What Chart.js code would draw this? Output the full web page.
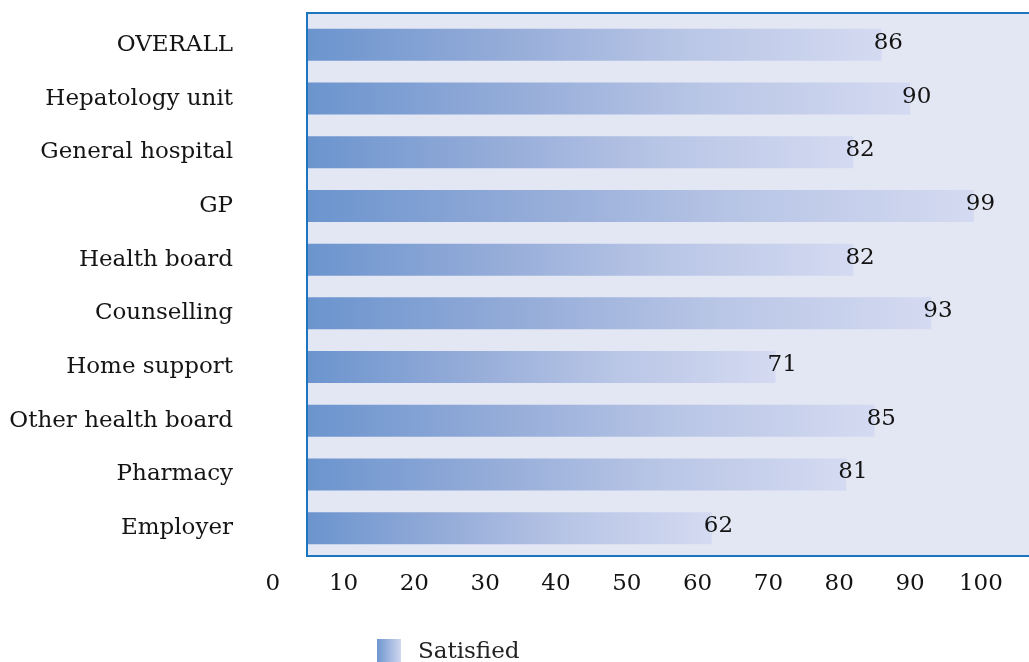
<!DOCTYPE html>
<html>
<head>
<meta charset="utf-8">
<title>Satisfaction by service</title>
<script src="https://cdn.jsdelivr.net/npm/chart.js@4.4.1/dist/chart.umd.min.js"></script>
<style>
  html, body { margin: 0; padding: 0; background: #ffffff; }
  #wrap { width: 1029px; height: 662px; position: relative; }
</style>
</head>
<body>
<div id="wrap"><canvas id="chart"></canvas></div>
<script>
// ----- Data -----
const categories = [
  'OVERALL', 'Hepatology unit', 'General hospital', 'GP', 'Health board',
  'Counselling', 'Home support', 'Other health board', 'Pharmacy', 'Employer',
];
const satisfied = [86, 90, 82, 99, 82, 93, 71, 85, 81, 62];
const xTickValues = [0, 10, 20, 30, 40, 50, 60, 70, 80, 90, 100];
const seriesLabel = 'Satisfied';

const FONT = "'DejaVu Serif', serif";
const TEXT = '#141414';

// per-bar gradient, dark blue at the axis to pale lavender at the bar end
function barGradient(c) {
  const chart = c.chart;
  const area = chart.chartArea;
  if (!area || c.dataIndex === undefined) return '#93abd8';
  const x0 = area.left;
  const x1 = chart.scales.x.getPixelForValue(satisfied[c.dataIndex]);
  const g = chart.ctx.createLinearGradient(x0, 0, x1, 0);
  g.addColorStop(0, '#6b94ce');
  g.addColorStop(0.33, '#93abd8');
  g.addColorStop(0.66, '#b9c6e6');
  g.addColorStop(1, '#d4daf1');
  return g;
}

// ----- Plot frame (background + left/top/bottom border) -----
const framePlugin = {
  id: 'frame',
  beforeDatasetsDraw(chart) {
    const { ctx, chartArea: a } = chart;
    ctx.save();
    ctx.fillStyle = '#e3e6f3';
    ctx.fillRect(a.left, a.top - 5, a.right - a.left, a.bottom - a.top + 6);
    ctx.restore();
  },
  afterDatasetsDraw(chart) {
    const { ctx, chartArea: a } = chart;
    ctx.save();
    ctx.strokeStyle = '#1b75bf';
    ctx.lineWidth = 2;
    ctx.beginPath();
    ctx.moveTo(a.right, a.top - 5);
    ctx.lineTo(a.left, a.top - 5);
    ctx.lineTo(a.left, a.bottom + 1);
    ctx.lineTo(a.right, a.bottom + 1);
    ctx.stroke();

    // value labels near the bar ends
    ctx.fillStyle = TEXT;
    ctx.font = `23px ${FONT}`;
    ctx.textAlign = 'left';
    ctx.textBaseline = 'middle';
    chart.getDatasetMeta(0).data.forEach((bar, i) => {
      ctx.fillText(String(satisfied[i]), bar.x - 8, bar.y - 2);
    });
    ctx.restore();
  },
};

// ----- Legend drawn under the axis -----
const legendPlugin = {
  id: 'bottomLegend',
  afterDraw(chart) {
    const { ctx } = chart;
    const sx = 377, sy = 639, size = 24;
    ctx.save();
    const g = ctx.createLinearGradient(sx, 0, sx + size, 0);
    g.addColorStop(0, '#6d96cf');
    g.addColorStop(1, '#d0d7ef');
    ctx.fillStyle = g;
    ctx.fillRect(sx, sy, size, size);
    ctx.fillStyle = '#222222';
    ctx.font = `23px ${FONT}`;
    ctx.textAlign = 'left';
    ctx.textBaseline = 'alphabetic';
    ctx.fillText(chart.data.datasets[0].label, 418, 658);
    ctx.restore();
  },
};

new Chart(document.getElementById('chart'), {
  type: 'bar',
  data: {
    labels: categories,
    datasets: [{
      label: seriesLabel,
      data: satisfied,
      backgroundColor: barGradient,
      borderWidth: 0,
      categoryPercentage: 1.0,
      barPercentage: 0.596,
    }],
  },
  options: {
    indexAxis: 'y',
    responsive: true,
    maintainAspectRatio: false,
    animation: false,
    layout: { padding: { top: 18, right: 0, bottom: 0, left: 0 } },
    plugins: {
      legend: { display: false },
      tooltip: { enabled: false },
    },
    scales: {
      x: {
        type: 'linear',
        min: 4.84,
        max: 106.8,
        grid: { display: false },
        border: { display: false },
        afterBuildTicks: (scale) => {
          scale.ticks = xTickValues.map(v => ({ value: v }));
        },
        afterFit: (scale) => { scale.height = 107; },
        ticks: {
          autoSkip: false,
          maxRotation: 0,
          padding: 7,
          color: TEXT,
          font: { family: FONT, size: 23 },
        },
      },
      y: {
        // gap between labels and plot comes from the (hidden) tick length,
        // ticks.padding would also pad the top of the chart
        grid: { display: false, drawTicks: true, tickLength: 74 },
        border: { display: false },
        afterFit: (scale) => { scale.width = 307; },
        ticks: {
          padding: 0,
          color: TEXT,
          font: { family: FONT, size: 23 },
        },
      },
    },
  },
  plugins: [framePlugin, legendPlugin],
});
</script>
</body>
</html>
